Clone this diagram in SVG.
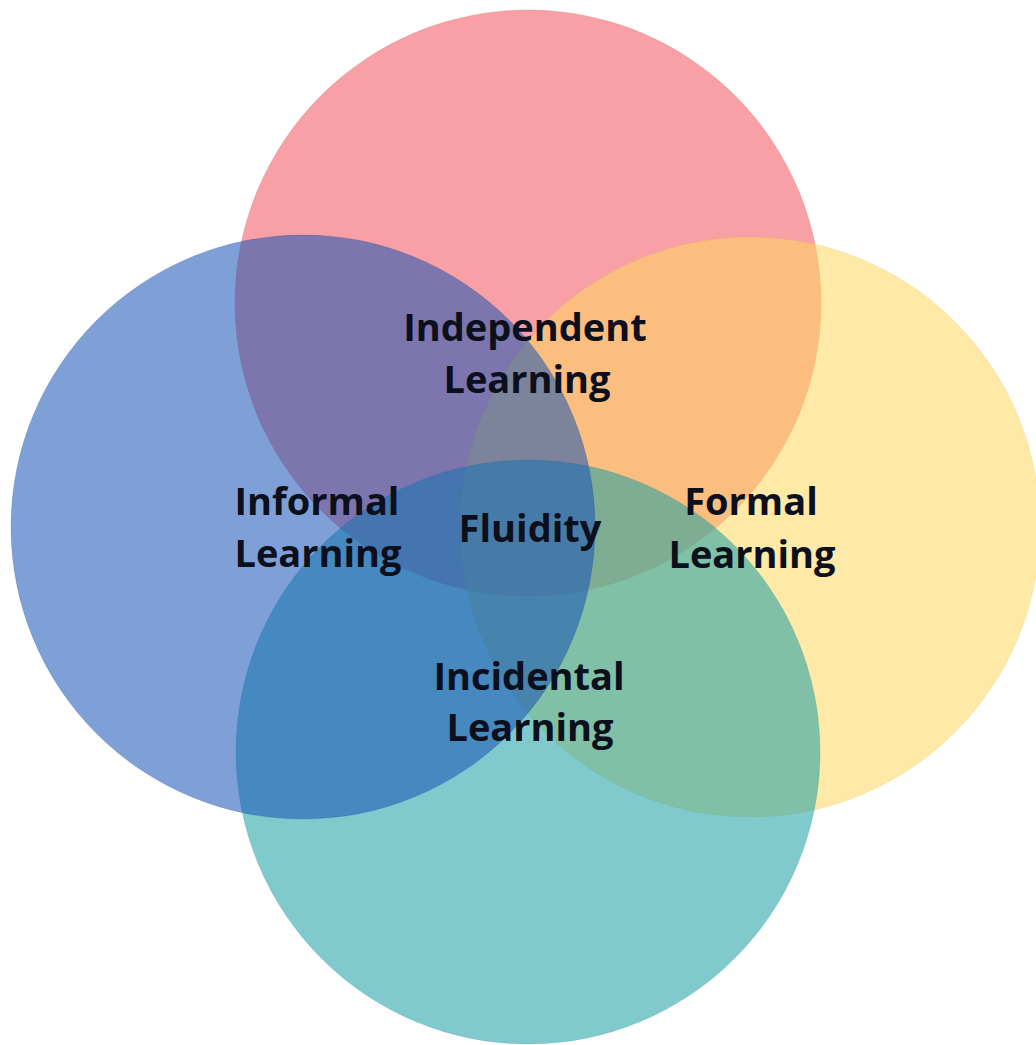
<svg xmlns="http://www.w3.org/2000/svg" width="1036" height="1045" viewBox="0 0 1036 1045">
  <style>
    .ring { fill-opacity: 0.55; stroke-width: 1; stroke-opacity: 0.2; }
    .label { font-family: "Open Sans", "Noto Sans", "DejaVu Sans", sans-serif; font-weight: 700; font-size: 38px; fill: #0c0f1c; text-anchor: middle; }
  </style>
  <rect width="1036" height="1045" fill="#ffffff"/>

  <!-- four overlapping circles, drawn bottom to top -->
  <g id="independent">
    <circle class="ring" cx="528" cy="303" r="293" fill="#F2525D" stroke="#C0404A"/>
  </g>
  <g id="formal">
    <circle class="ring" cx="750" cy="527" r="290" fill="#FFD75D" stroke="#E0B040"/>
  </g>
  <g id="incidental">
    <circle class="ring" cx="528" cy="752" r="292" fill="#189EA6" stroke="#128088"/>
  </g>
  <g id="informal">
    <circle class="ring" cx="303" cy="527" r="292" fill="#1652B4" stroke="#104090"/>
  </g>

  <!-- no connectors in this diagram -->
  <g id="connectors"/>

  <!-- labels -->
  <g id="labels">
    <text class="label" x="525" y="341">Independent</text>
    <text class="label" x="527" y="393">Learning</text>
    <text class="label" x="317" y="515">Informal</text>
    <text class="label" x="318" y="567">Learning</text>
    <text class="label" x="530" y="542">Fluidity</text>
    <text class="label" x="751" y="515">Formal</text>
    <text class="label" x="752" y="568">Learning</text>
    <text class="label" x="529" y="690">Incidental</text>
    <text class="label" x="530" y="741">Learning</text>
  </g>
</svg>
